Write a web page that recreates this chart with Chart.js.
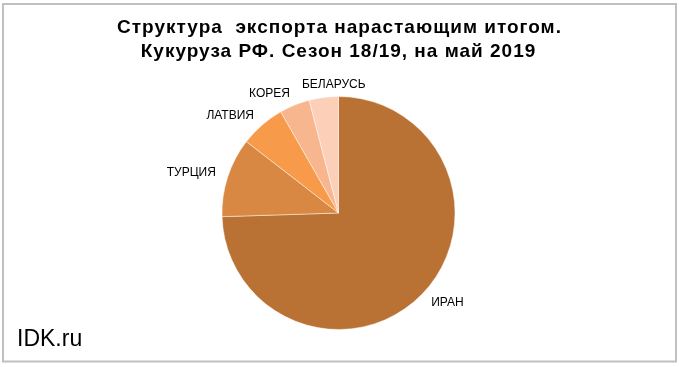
<!DOCTYPE html>
<html>
<head>
<meta charset="utf-8">
<script src="https://cdn.jsdelivr.net/npm/chart.js@4"></script>
<style>
html,body{margin:0;padding:0;background:#fff;}
#wrap{width:680px;height:367px;position:relative;}
</style>
</head>
<body>
<div id="wrap"><canvas id="c" width="680" height="367"></canvas></div>
<script>
const titleLines = ['Структура  экспорта нарастающим итогом.', 'Кукуруза РФ. Сезон 18/19, на май 2019'];
const categories = ['ИРАН', 'ТУРЦИЯ', 'ЛАТВИЯ', 'КОРЕЯ', 'БЕЛАРУСЬ'];
const shares = [74.5, 11.0, 6.25, 4.2, 4.05];
const sliceColors = ['#BA7234', '#D98843', '#F79A4A', '#F8B68E', '#FBCFB8'];
const watermark = 'IDK.ru';

const FONT = '"Liberation Sans", Arial, sans-serif';

const decor = {
  id: 'decor',
  beforeDraw(chart) {
    const ctx = chart.ctx;
    ctx.save();
    ctx.fillStyle = '#fff';
    ctx.fillRect(0, 0, chart.width, chart.height);
    ctx.restore();
  },
  afterDraw(chart) {
    const ctx = chart.ctx;
    ctx.save();
    // border
    ctx.strokeStyle = '#C0C0C0';
    ctx.lineWidth = 2;
    ctx.strokeRect(3, 4, 673, 357.5);
    // title
    ctx.fillStyle = '#000';
    ctx.font = 'bold 19px ' + FONT;
    ctx.letterSpacing = '1px';
    ctx.textAlign = 'center';
    ctx.textBaseline = 'alphabetic';
    ctx.fillText(titleLines[0], 339.5, 32.5);
    ctx.fillText(titleLines[1], 338.5, 56.5);
    ctx.letterSpacing = '0px';
    // watermark
    ctx.font = '23px ' + FONT;
    ctx.textAlign = 'left';
    ctx.fillText(watermark, 17, 346);
    // slice labels
    const meta = chart.getDatasetMeta(0);
    ctx.font = '12px ' + FONT;
    ctx.textBaseline = 'middle';
    let prevRight = -Infinity;
    meta.data.forEach((arc, i) => {
      const p = arc.getProps(['x', 'y', 'startAngle', 'endAngle', 'outerRadius'], true);
      const mid = (p.startAngle + p.endAngle) / 2;
      const cx = Math.cos(mid), cy = Math.sin(mid);
      const r = p.outerRadius + 12.5;
      let x = p.x + cx * r;
      const y = p.y + cy * r;
      const w = ctx.measureText(categories[i]).width;
      let align;
      if (Math.abs(cx) < 0.2) {
        align = 'center';
        x = Math.max(x, prevRight + 12 + w / 2);
        prevRight = x + w / 2;
      } else if (cx < 0) {
        align = 'right';
        prevRight = x;
      } else {
        align = 'left';
        prevRight = x + w;
      }
      ctx.textAlign = align;
      ctx.fillText(categories[i], x, y);
    });
    ctx.restore();
  }
};

new Chart(document.getElementById('c'), {
  type: 'pie',
  data: {
    labels: categories,
    datasets: [{
      data: shares,
      backgroundColor: sliceColors,
      borderColor: 'rgba(255,255,255,0.45)',
      borderWidth: 1
    }]
  },
  options: {
    responsive: false,
    animation: false,
    layout: { padding: { top: 96, bottom: 37, left: 100, right: 103 } },
    plugins: {
      legend: { display: false },
      title: { display: false },
      tooltip: { enabled: false }
    }
  },
  plugins: [decor]
});
</script>
</body>
</html>
